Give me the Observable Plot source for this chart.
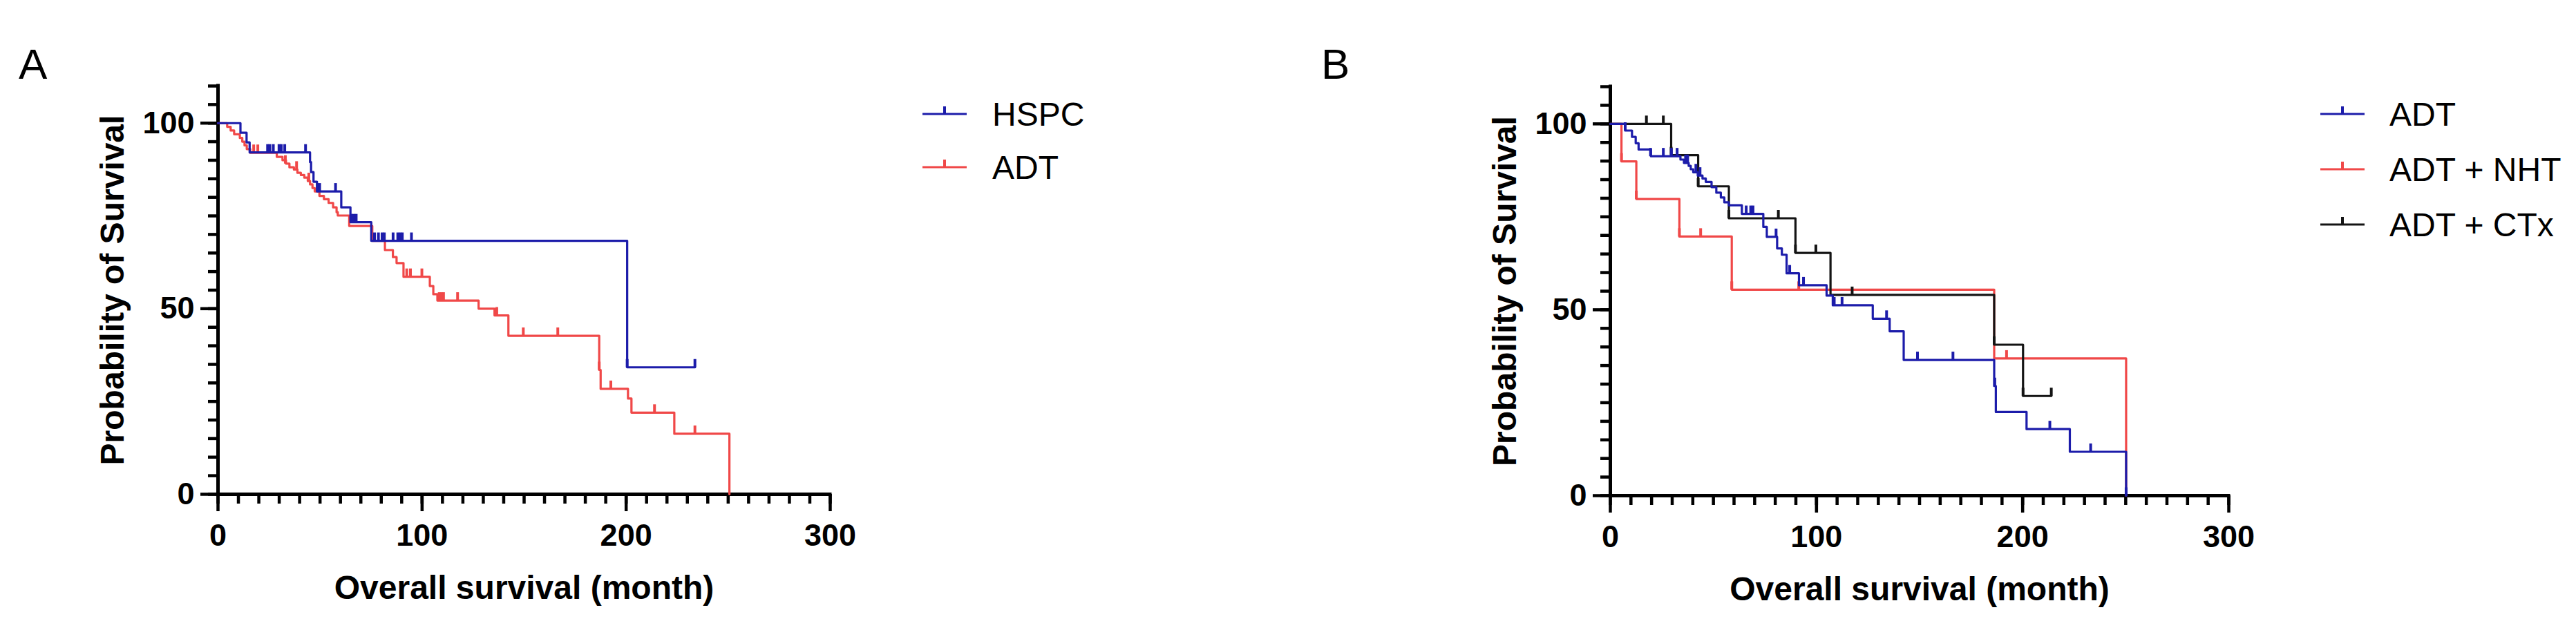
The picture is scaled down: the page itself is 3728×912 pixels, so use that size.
<!DOCTYPE html>
<html>
<head>
<meta charset="utf-8">
<script src="https://cdn.jsdelivr.net/npm/d3@7"></script>
<script src="https://cdn.jsdelivr.net/npm/@observablehq/plot@0.6"></script>
<style>
  html, body { margin: 0; padding: 0; background: #fff; }
  body { width: 3728px; height: 912px; position: relative; overflow: hidden;
         font-family: "Liberation Sans", Arial, sans-serif; color: #000; }
  .panel { position: absolute; top: 0; }
  .letter { position: absolute; font-size: 62px; line-height: 62px; }
  .lg-text { position: absolute; font-size: 48px; line-height: 48px; white-space: nowrap; }
  .lg-sw { position: absolute; }
</style>
</head>
<body>
<div class="letter" style="left:27px;top:62px">A</div>
<div class="letter" style="left:1912px;top:62px">B</div>
<script>
// ---------- axis ticks ----------
const xMajorTicks = [0, 100, 200, 300];
const yMajorTicks = [0, 50, 100];
const xMinorTicks = d3.range(0, 301, 10);
const yMinorTicks = d3.range(0, 111, 5);
const xTitle = "Overall survival (month)";
const yTitle = "Probability of Survival";

// ---------- Panel A ----------
const legendA = ["HSPC", "ADT"];
// HSPC: [month, survival %] step points
const aHspcSteps = [[0,100],[11,97.4],[14,94.8],[15.5,92.1],[45.1,89.5],[45.6,86.8],[46.8,84.2],[48.5,81.6],
  [60.4,77.3],[64.9,73.3],[75.1,68.3],[200.5,34.2],[233.7,34.2]];
const aHspcCensor = [[24.3,92.1],[25.4,92.1],[27.1,92.1],[29.9,92.1],[31.0,92.1],[32.7,92.1],[42.9,92.1],
  [48.8,81.6],[49.8,81.6],[57.6,81.6],[65.5,73.3],[66.6,73.3],[67.7,73.3],
  [76.7,68.3],[78.6,68.3],[80.4,68.3],[81.5,68.3],[85.8,68.3],[88.1,68.3],[89.2,68.3],[90.3,68.3],[94.8,68.3],
  [200.5,34.2],[233.7,34.2]];
// ADT
const aAdtSteps = [[0,100],[4.5,99.0],[6.2,98.0],[7.9,97.0],[10.7,96.0],[11.9,95.0],[13.0,94.0],[14.1,93.0],[15.8,92.0],
  [28.8,90.9],[31.6,90.0],[33.3,89.1],[35.0,88.1],[37.2,87.5],[38.9,86.6],[40.6,86.0],[42.3,85.3],[44.0,84.4],
  [45.1,83.5],[46.3,82.5],[47.4,81.6],[49.7,80.4],[51.9,79.5],[54.2,78.5],[56.4,77.3],[58.1,76.0],[58.7,75.1],
  [64.3,72.3],[75.6,68.3],[81.8,65.8],[85.7,63.9],[87.5,62.3],[90.9,58.6],[103.8,56.1],[105.5,53.9],[107.5,52.2],
  [127.7,50.0],[135.5,48.2],[142.3,42.7],[186.8,33.5],[187.5,28.4],[200.9,25.8],[202.6,22.0],[223.6,16.3],[250.6,0]];
const aAdtCensor = [[17.5,92.0],[19.5,92.0],[33.0,89.1],[38.5,87.5],[44.5,84.4],
  [92.5,58.6],[94.3,58.6],[99.9,58.6],[108.4,52.2],[109.5,52.2],[110.5,52.2],[117.4,52.2],
  [136.6,48.2],[149.6,42.7],[166.5,42.7],[186.8,33.5],[192.5,28.4],[213.9,22.0],[233.7,16.3]];

// ---------- Panel B ----------
const legendB = ["ADT", "ADT + NHT", "ADT + CTx"];
const bAdtSteps = [[0,100],[7.2,98.2],[10.5,96.5],[12.3,94.8],[13.7,93.1],[19.7,91.3],[34.0,90.4],[35.7,89.5],
  [38.0,88.7],[39.0,87.8],[40.2,87.0],[42.4,86.1],[44.7,85.3],[46.3,84.4],[49.1,83.0],[51.4,81.5],[53.6,80.2],
  [55.3,78.9],[57.5,78.1],[63.8,75.8],[74.2,72.3],[75.9,69.6],[80.9,66.5],[83.2,64.8],[85.5,59.8],[91.5,56.6],
  [104.9,53.8],[107.9,51.2],[127.3,47.6],[135.5,44.2],[142.3,36.5],[186.2,29.5],[187.0,22.5],[201.9,17.9],
  [222.9,11.8],[250.2,0]];
const bAdtCensor = [[7.2,98.2],[19.5,91.3],[25.7,91.3],[29.6,91.3],[32.4,91.3],[36.5,89.5],[37.5,89.5],
  [41.5,87.0],[43.5,86.1],[65.9,75.8],[68.1,75.8],[69.2,75.8],[80.4,69.6],[87.0,59.8],[93.7,56.6],
  [108.6,51.2],[112.4,51.2],[134.0,47.6],[149.0,36.5],[166.2,36.5],[186.5,29.5],[213.2,17.9],[233.0,11.8],[250.2,0]];
const bNhtSteps = [[0,100],[5.4,89.9],[12.6,79.8],[33.5,69.7],[58.9,55.4],[186.2,36.9],[250.2,0]];
const bNhtCensor = [[5.4,89.9],[12.6,79.8],[33.5,69.7],[43.8,69.7],[58.9,55.4],[91.4,55.4],[192.2,36.9]];
const bCtxSteps = [[0,100],[29.5,91.6],[42.6,83.2],[57.5,74.6],[89.8,65.3],[106.8,54.0],[186.2,40.6],[200.2,26.8],[213.9,26.8]];
const bCtxCensor = [[17.5,100],[25.7,100],[29.5,91.6],[42.6,83.2],[57.5,74.6],[81.5,74.6],[89.8,65.3],
  [99.7,65.3],[117.3,54.0],[186.2,40.6],[200.2,26.8],[213.9,26.8]];

// ---------- styling ----------
const BLUE = "#1c1caa", RED = "#f04848", BLACK = "#141414";
const FONT = "'Liberation Sans', Arial, Helvetica, sans-serif";

const censorSymbol = { draw(ctx) { ctx.moveTo(0, 0); ctx.lineTo(0, -12); } };
const rows = (pairs) => pairs.map(([t, s]) => ({ t, s }));

function panel(layout, groups) {
  const marks = [
    Plot.axisX(xMinorTicks, { tickSize: 14, strokeWidth: 4.5, tickFormat: () => "", label: null }),
    Plot.axisX(xMajorTicks, { tickSize: 25, strokeWidth: 4.5, tickPadding: 18, fontSize: 45,
      fontWeight: "bold", fill: "#000", label: null }),
    Plot.axisY(yMinorTicks, { tickSize: 14, strokeWidth: 4.5, tickFormat: () => "", label: null }),
    Plot.axisY(yMajorTicks, { tickSize: 25, strokeWidth: 4.5, tickPadding: 9, fontSize: 45,
      fontWeight: "bold", fill: "#000", label: null }),
    Plot.ruleY([0], { strokeWidth: 5, strokeLinecap: "square", stroke: "#000" }),
    Plot.ruleX([0], { strokeWidth: 5, strokeLinecap: "square", stroke: "#000" }),
    Plot.text([xTitle], { text: d => d, frameAnchor: "bottom", lineAnchor: "bottom", dy: 151,
      fontSize: 48, fontWeight: "bold", fill: "#000" }),
    Plot.text([yTitle], { text: d => d, frameAnchor: "left", textAnchor: "middle", rotate: -90, dx: -152,
      fontSize: 48, fontWeight: "bold", fill: "#000" })
  ];
  for (const g of groups) {
    marks.push(Plot.line(rows(g.steps), { x: "t", y: "s", curve: "step-after", stroke: g.color, strokeWidth: 3.2 }));
    marks.push(Plot.dot(rows(g.censor), { x: "t", y: "s", symbol: censorSymbol, stroke: g.color,
      fill: "none", strokeWidth: 4 }));
  }
  const svg = Plot.plot({
    width: layout.width, height: 912,
    marginLeft: layout.ml, marginRight: layout.mr, marginTop: layout.mt, marginBottom: layout.mb,
    x: { domain: [0, 300] },
    y: { domain: [0, 110] },
    style: { fontFamily: FONT, background: "transparent", overflow: "visible", color: "#000" },
    marks
  });
  const wrap = document.createElement("div");
  wrap.className = "panel";
  wrap.style.left = layout.left + "px";
  wrap.appendChild(svg);
  document.body.appendChild(wrap);
}

function legend(names, colors, swX, textX, ys) {
  names.forEach((name, i) => {
    const y = ys[i];
    const sw = document.createElement("div");
    sw.className = "lg-sw";
    sw.style.left = swX + "px";
    sw.style.top = (y - 14) + "px";
    sw.innerHTML = `<svg width="64" height="20"><line x1="0" x2="64" y1="14" y2="14" stroke="${colors[i]}" stroke-width="3.2"/>` +
      `<line x1="32" x2="32" y1="14" y2="3" stroke="${colors[i]}" stroke-width="4"/></svg>`;
    document.body.appendChild(sw);
    const tx = document.createElement("div");
    tx.className = "lg-text";
    tx.style.left = textX + "px";
    tx.style.top = (y - 23) + "px";
    tx.textContent = name;
    document.body.appendChild(tx);
  });
}

// Panel A (red drawn first, blue on top)
panel({ left: 0, width: 1864, ml: 315, mr: 663, mt: 124, mb: 197 }, [
  { steps: aAdtSteps, censor: aAdtCensor, color: RED },
  { steps: aHspcSteps, censor: aHspcCensor, color: BLUE }
]);
legend(legendA, [BLUE, RED], 1335, 1436, [165, 242]);

// Panel B
panel({ left: 1864, width: 1864, ml: 466, mr: 503, mt: 125, mb: 195 }, [
  { steps: bNhtSteps, censor: bNhtCensor, color: RED },
  { steps: bCtxSteps, censor: bCtxCensor, color: BLACK },
  { steps: bAdtSteps, censor: bAdtCensor, color: BLUE }
]);
legend(legendB, [BLUE, RED, BLACK], 3358, 3458, [165, 245, 325]);
</script>
</body>
</html>
